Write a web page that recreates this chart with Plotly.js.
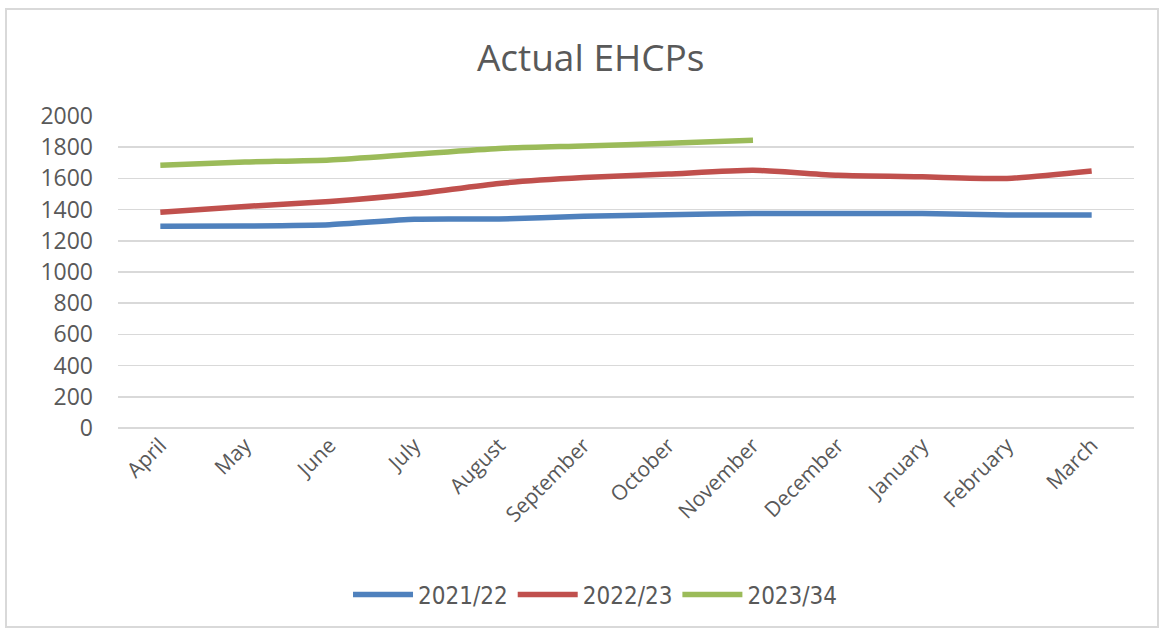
<!DOCTYPE html>
<html>
<head>
<meta charset="utf-8">
<script src="https://cdn.plot.ly/plotly-3.0.1.min.js"></script>
<style>
  html, body { margin: 0; padding: 0; background: #ffffff; }
  #chart { position: absolute; left: 0; top: 0; width: 1165px; height: 630px; }
  #frame { position: absolute; left: 5px; top: 8px; width: 1150px; height: 616px;
           border: 2px solid #d9d9d9; pointer-events: none; }
</style>
</head>
<body>
<div id="chart"></div>
<div id="frame"></div>
<script>
const months = ["April","May","June","July","August","September","October","November","December","January","February","March"];
const s2021 = [1293,1295,1303,1338,1340,1357,1367,1375,1375,1375,1365,1365];
const s2022 = [1383,1420,1452,1500,1568,1605,1628,1652,1620,1610,1600,1648];
const s2023 = [1685,1705,1718,1755,1792,1808,1825,1845];
const seriesNames = ["2021/22","2022/23","2023/34"];
const colors = ["#4f81bd","#c0504d","#9bbb59"];

const data = [s2021, s2022, s2023].map((vals, i) => ({
  type: "scatter",
  mode: "lines",
  name: seriesNames[i],
  x: months.slice(0, vals.length),
  y: vals,
  line: {color: colors[i], width: 5.5, shape: "spline", smoothing: 0.6},
  hoverinfo: "x+y+name"
}));

const layout = {
  width: 1165, height: 630,
  paper_bgcolor: "#ffffff", plot_bgcolor: "#ffffff",
  margin: {l: 118, r: 31, t: 116, b: 202},
  title: {text: "Actual EHCPs", x: 0.507, xanchor: "center", y: 0.908, yanchor: "middle",
          font: {family: "Open Sans, sans-serif", size: 37, color: "#595959"}},
  xaxis: {
    type: "category", categoryorder: "array", categoryarray: months,
    range: [-0.5, 11.5], showgrid: false, zeroline: false, showline: false,
    ticks: "", tickangle: -45,
    tickfont: {family: "Open Sans, sans-serif", size: 21, color: "#595959"}
  },
  yaxis: {
    range: [0, 2000], dtick: 200, tick0: 0,
    showgrid: true, gridcolor: "#d9d9d9", gridwidth: 1.5,
    zeroline: true, zerolinecolor: "#d9d9d9", zerolinewidth: 1.5,
    showline: false, ticks: "", ticklabelstandoff: 24,
    tickfont: {family: "Open Sans, sans-serif", size: 23, color: "#595959"}
  },
  legend: {orientation: "h", x: 0.47, xanchor: "center", y: -0.535, yanchor: "middle",
           font: {family: "DejaVu Sans Condensed, sans-serif", size: 24, color: "#595959"},
           itemwidth: 60, traceorder: "normal"},
  showlegend: true
};

Plotly.newPlot("chart", data, layout, {displayModeBar: false, staticPlot: true});
</script>
</body>
</html>
